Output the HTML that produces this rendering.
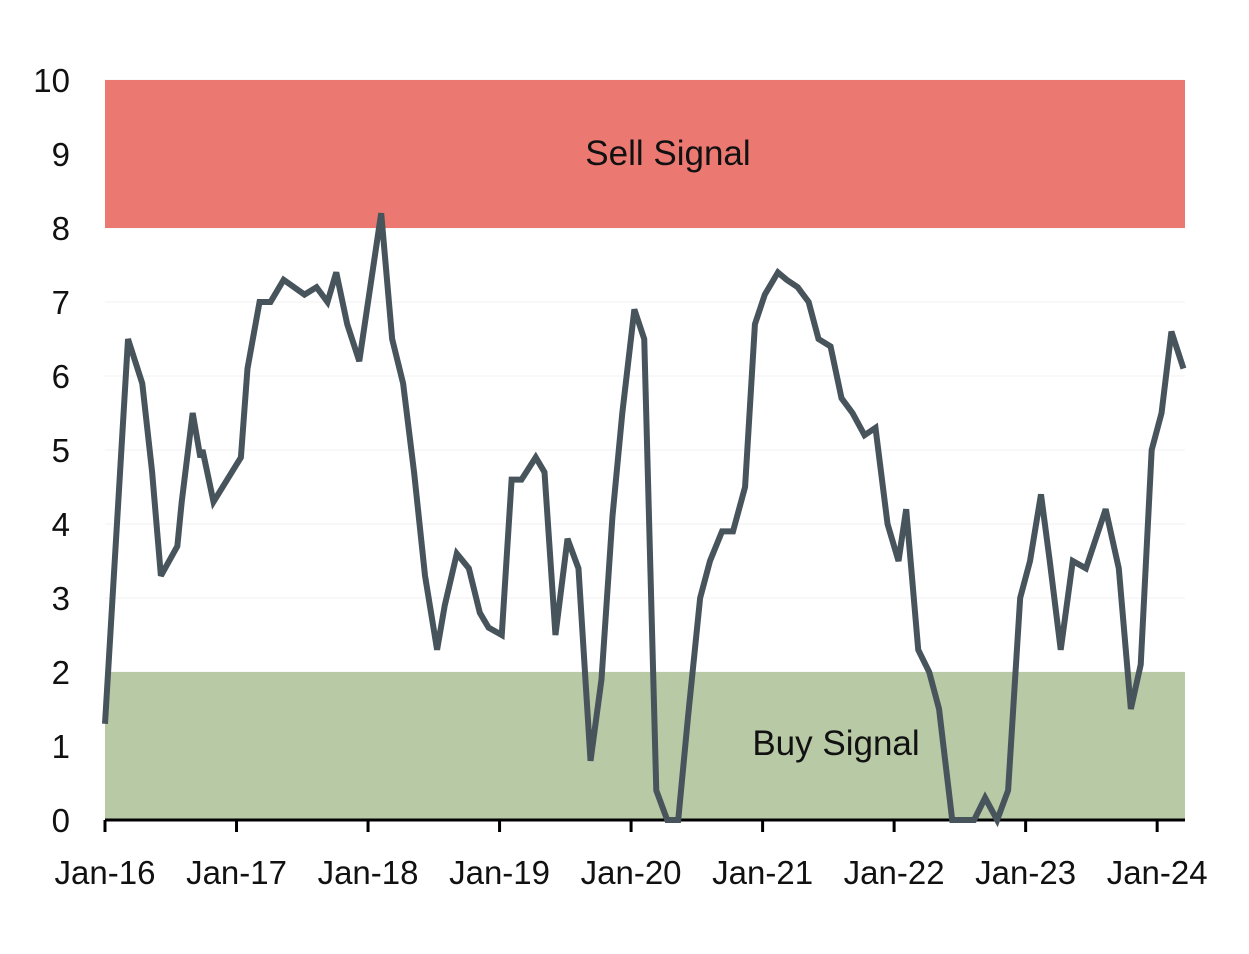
<!DOCTYPE html>
<html><head><meta charset="utf-8"><style>
body{margin:0;background:#fff}
svg text{font-family:"Liberation Sans",sans-serif;fill:#111}
</style></head><body>
<svg id="chart" width="1249" height="949" viewBox="0 0 1249 949"></svg>
<script>
const months=[0,2.1,3.4,4.3,5.1,6.6,7.0,8.0,8.7,8.9,9.9,12.4,13.0,14.1,15.1,16.3,18.2,19.3,20.3,21.1,22.1,23.2,25.2,26.2,27.2,28.2,29.2,30.3,31.0,32.1,33.2,34.2,35.0,36.2,37.1,38.0,39.3,40.1,41.1,42.2,43.2,44.3,45.3,46.3,47.2,48.3,49.2,50.3,51.3,52.3,53.2,54.3,55.2,56.3,57.3,58.4,59.3,60.2,61.4,62.2,63.2,64.2,65.1,66.2,67.2,68.2,69.3,70.3,71.4,72.4,73.1,74.2,75.2,76.1,77.3,78.3,79.3,80.3,81.4,82.4,83.5,84.4,85.4,86.2,87.2,88.3,89.5,91.3,92.5,93.6,94.5,95.5,96.4,97.3,98.4];
const values=[1.3,6.5,5.9,4.7,3.3,3.7,4.3,5.5,4.9,5.0,4.3,4.9,6.1,7.0,7.0,7.3,7.1,7.2,7.0,7.4,6.7,6.2,8.2,6.5,5.9,4.7,3.3,2.3,2.9,3.6,3.4,2.8,2.6,2.5,4.6,4.6,4.9,4.7,2.5,3.8,3.4,0.8,1.9,4.1,5.5,6.9,6.5,0.4,0.0,0.0,1.4,3.0,3.5,3.9,3.9,4.5,6.7,7.1,7.4,7.3,7.2,7.0,6.5,6.4,5.7,5.5,5.2,5.3,4.0,3.5,4.2,2.3,2.0,1.5,0.0,0.0,0.0,0.3,0.0,0.4,3.0,3.5,4.4,3.5,2.3,3.5,3.4,4.2,3.4,1.5,2.1,5.0,5.5,6.6,6.1];
const xTickLabels=["Jan-16","Jan-17","Jan-18","Jan-19","Jan-20","Jan-21","Jan-22","Jan-23","Jan-24"];
const yTicks=[0,1,2,3,4,5,6,7,8,9,10];
const sellBand=[8,10];
const buyBand=[0,2];
const NS="http://www.w3.org/2000/svg";
const svg=document.getElementById('chart');
const X0=105,X1=1185,PXM=10.96,Y0=820,PXV=74;
const xs=m=>X0+m*PXM, ys=v=>Y0-v*PXV;
function mk(t,a,txt){const e=document.createElementNS(NS,t);for(const k in a)e.setAttribute(k,a[k]);if(txt!==undefined)e.textContent=txt;svg.appendChild(e);return e;}
yTicks.forEach(v=>{const g=mk('line',{x1:X0,x2:X1,y1:ys(v),y2:ys(v),stroke:'#f2f2f2','stroke-width':1});

});
let r=mk('rect',{x:X0,y:ys(sellBand[1]),width:X1-X0,height:ys(sellBand[0])-ys(sellBand[1]),fill:'#ec7872'});


r=mk('rect',{x:X0,y:ys(buyBand[1]),width:X1-X0,height:ys(buyBand[0])-ys(buyBand[1]),fill:'#b8c9a6'});


let t=mk('text',{x:668,y:165,'font-size':35,'text-anchor':'middle'},'Sell Signal');


t=mk('text',{x:836,y:755,'font-size':35,'text-anchor':'middle'},'Buy Signal');


yTicks.forEach(v=>{const l=mk('text',{x:70,y:ys(v)+12,'font-size':33,'text-anchor':'end'},String(v));

});
const ax=mk('line',{x1:X0,x2:X1,y1:Y0,y2:Y0,stroke:'#000','stroke-width':3});


xTickLabels.forEach((s,i)=>{const x=xs(i*12);
const tk=mk('line',{x1:x,x2:x,y1:Y0,y2:Y0+12,stroke:'#000','stroke-width':3});


const l=mk('text',{x:x,y:884,'font-size':33,'text-anchor':'middle'},s);

});
const p=mk('polyline',{points:months.map((m,i)=>xs(m)+','+ys(values[i])).join(' '),fill:'none',stroke:'#47545c','stroke-width':6,'stroke-linejoin':'miter','stroke-miterlimit':3});


</script>
</body></html>
